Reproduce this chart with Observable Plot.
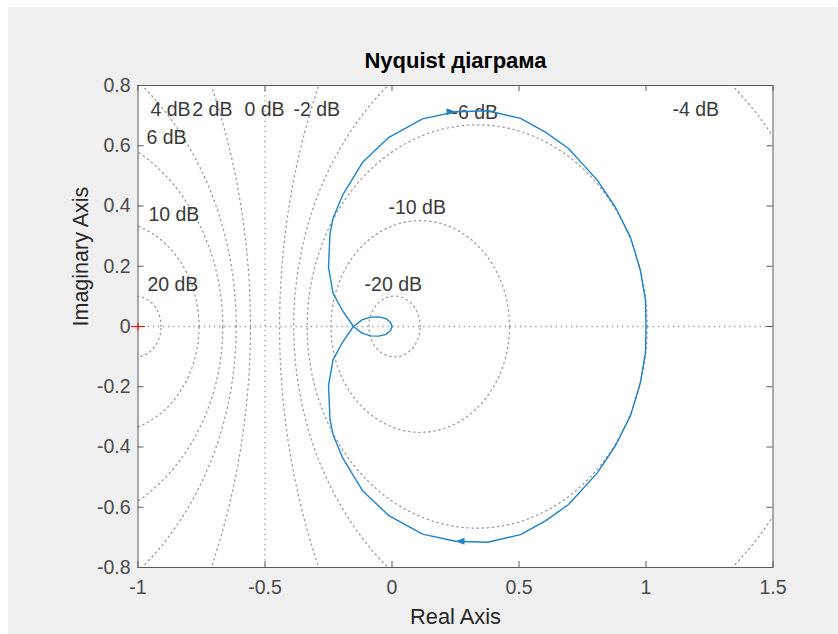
<!DOCTYPE html>
<html>
<head>
<meta charset="utf-8">
<script src="https://cdn.jsdelivr.net/npm/d3@7"></script>
<script src="https://cdn.jsdelivr.net/npm/@observablehq/plot@0.6"></script>
<style>
  html, body { margin: 0; padding: 0; background: #ffffff; }
  #fig { position: absolute; left: 8px; top: 7px; width: 830px; height: 627px; background: #f0f0f0; }
  #fig svg { display: block; }
</style>
</head>
<body>
<div id="fig"></div>
<script>
// Frequency response G(jw) for w >= 0 (real and imaginary parts);
// the w <= 0 branch is its complex conjugate.
const re = [1.000, 0.998, 0.978, 0.939, 0.880, 0.809, 0.695, 0.604, 0.506, 0.376, 0.250, 0.120,
            -0.012, -0.116, -0.195, -0.232, -0.244, -0.250, -0.232, -0.195, -0.152, -0.118,
            -0.085, -0.052, -0.024, -0.006, 0.000];
const im = [0.000, -0.086, -0.186, -0.296, -0.395, -0.485, -0.591, -0.645, -0.691, -0.716, -0.713, -0.689,
            -0.628, -0.545, -0.435, -0.359, -0.309, -0.196, -0.110, -0.053, 0.000, 0.022,
            0.031, 0.032, 0.026, 0.014, 0.000];

// Direction arrow on the w >= 0 branch
const arrowRe = [0.25];
const arrowIm = [-0.713];

// Critical point -1 + j0
const criticalRe = [-1];
const criticalIm = [0];

// Constant closed-loop magnitude circles, dB
const gridDb = [20, 10, 6, 4, 2, 0, -2, -4, -6, -10, -20];

// Grid labels (left edge of the text, vertical middle)
const labelText = ["4 dB", "2 dB", "0 dB", "-2 dB", "-6 dB", "-4 dB", "6 dB", "10 dB", "-10 dB", "20 dB", "-20 dB"];
const labelRe   = [-0.951, -0.786, -0.581, -0.388, 0.234, 1.104, -0.967, -0.959, -0.014, -0.963, -0.108];
const labelIm   = [0.718, 0.718, 0.718, 0.718, 0.711, 0.718, 0.625, 0.372, 0.395, 0.140, 0.140];

const xTicks = [-1, -0.5, 0, 0.5, 1, 1.5];
const yTicks = [-0.8, -0.6, -0.4, -0.2, 0, 0.2, 0.4, 0.6, 0.8];

// ---- derived tables ----
const curve = [
  ...re.map((r, i) => ({re: r, im: im[i], branch: "pos"})),
  ...re.map((r, i) => ({re: r, im: -im[i], branch: "neg"}))
];
const arrows = [
  ...arrowRe.map((r, i) => ({re: r, im: arrowIm[i], dir: "left"})),
  ...arrowRe.map((r, i) => ({re: r, im: -arrowIm[i], dir: "right"}))
];
const critical = criticalRe.map((r, i) => ({re: r, im: criticalIm[i]}));
const labels = labelText.map((t, i) => ({text: t, re: labelRe[i], im: labelIm[i]}));

// M-circles: |G/(1+G)| = M  ->  centre -M^2/(M^2-1), radius |M/(M^2-1)|
const circles = [];
for (const db of gridDb) {
  if (db === 0) continue;
  const M = Math.pow(10, db / 20);
  const c = -M * M / (M * M - 1);
  const rad = Math.abs(M / (M * M - 1));
  for (let a = 0; a <= 720; a++) {
    const t = a * Math.PI / 360;
    circles.push({db, re: c + rad * Math.cos(t), im: rad * Math.sin(t)});
  }
}
// M = 1 (0 dB) degenerates to the line Re = -1/2
const zeroDbLine = gridDb.filter(d => d === 0).map(() => -0.5);

// arrowheads with the tip at the anchor point
const arrowRight = {draw(ctx) { ctx.moveTo(0, 0); ctx.lineTo(-9, -3.5); ctx.lineTo(-9, 3.5); ctx.closePath(); }};
const arrowLeft  = {draw(ctx) { ctx.moveTo(0, 0); ctx.lineTo(9, -3.5); ctx.lineTo(9, 3.5); ctx.closePath(); }};
const plusMark   = {draw(ctx) { ctx.moveTo(-7, 0); ctx.lineTo(7, 0); ctx.moveTo(0, -3.5); ctx.lineTo(0, 3.5); }};

const W = 830, H = 627;
const mL = 129.5, mR = 65.5, mT = 78, mB = 67;
const frameW = W - mL - mR, frameH = H - mT - mB;
const tickLen = 6;
const axisColor = "#5a5a5a";
const gridColor = "#999999";
const gridDash = "1.3,3.8";
const lineColor = "#1f82c8";
const fmt = d => String(d);

const chart = Plot.plot({
  width: W,
  height: H,
  marginLeft: mL,
  marginRight: mR,
  marginTop: mT,
  marginBottom: mB,
  style: {fontFamily: "'Liberation Sans', Arial, Helvetica, sans-serif", background: "transparent", overflow: "visible"},
  x: {domain: [-1, 1.5]},
  y: {domain: [-0.8, 0.8]},
  marks: [
    Plot.frame({fill: "white"}),
    // grid
    Plot.line(circles, {x: "re", y: "im", z: "db", stroke: gridColor, strokeWidth: 1.3, strokeDasharray: gridDash, clip: true}),
    Plot.ruleX(zeroDbLine, {stroke: gridColor, strokeWidth: 1.3, strokeDasharray: gridDash}),
    Plot.ruleY([0], {stroke: gridColor, strokeWidth: 1.3, strokeDasharray: gridDash}),
    Plot.text(labels, {x: "re", y: "im", text: "text", textAnchor: "start", lineAnchor: "middle",
      fontSize: 19.5, fill: "#3a3a3a"}),
    // response
    Plot.line(curve, {x: "re", y: "im", z: "branch", stroke: lineColor, strokeWidth: 1.4}),
    Plot.dot(arrows.filter(d => d.dir === "right"), {x: "re", y: "im", symbol: arrowRight, r: 4, fill: lineColor, stroke: "none"}),
    Plot.dot(arrows.filter(d => d.dir === "left"), {x: "re", y: "im", symbol: arrowLeft, r: 4, fill: lineColor, stroke: "none"}),
    // box and inward ticks
    Plot.frame({stroke: axisColor, strokeWidth: 1}),
    Plot.tickX(xTicks, {x: d => d, insetTop: frameH - tickLen, stroke: axisColor}),
    Plot.tickX(xTicks, {x: d => d, insetBottom: frameH - tickLen, stroke: axisColor}),
    Plot.tickY(yTicks, {y: d => d, insetRight: frameW - tickLen, stroke: axisColor}),
    Plot.tickY(yTicks, {y: d => d, insetLeft: frameW - tickLen, stroke: axisColor}),
    Plot.axisX(xTicks, {anchor: "bottom", tickSize: 0, tickPadding: 13, tickFormat: fmt, label: null,
      fontSize: 19.5, color: "#4a4a4a"}),
    Plot.axisY(yTicks, {anchor: "left", tickSize: 0, tickPadding: 7.5, tickFormat: fmt, label: null,
      fontSize: 19.5, color: "#4a4a4a"}),
    // critical point
    Plot.dot(critical, {x: "re", y: "im", symbol: plusMark, r: 4, stroke: "#ff0000", fill: "none", strokeWidth: 1.2}),
    // titles
    Plot.text(["Real Axis"], {text: d => d, frameAnchor: "bottom", dy: 50, lineAnchor: "middle",
      fontSize: 21.8, fill: "#262626"}),
    Plot.text(["Imaginary Axis"], {text: d => d, frameAnchor: "left", dx: -57, rotate: -90, lineAnchor: "middle",
      fontSize: 21.5, fill: "#262626"}),
    Plot.text(["Nyquist діаграма"], {text: d => d, frameAnchor: "top", dy: -25, lineAnchor: "middle",
      fontSize: 22, fontWeight: "bold", fill: "#000000"})
  ]
});

document.getElementById("fig").appendChild(chart);
</script>
</body>
</html>
